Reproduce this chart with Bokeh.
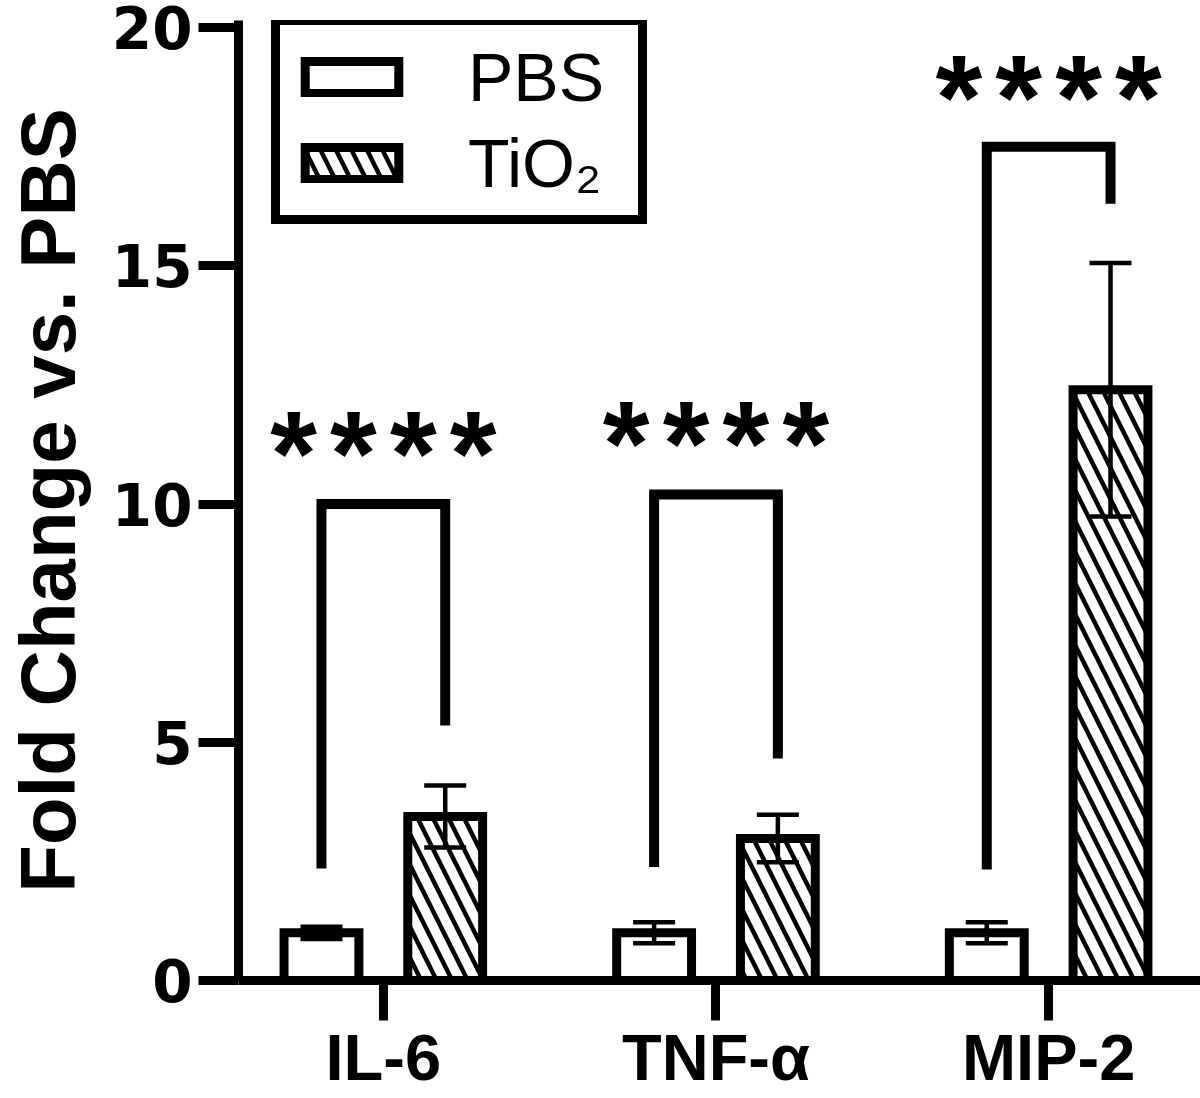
from bokeh.plotting import figure
from bokeh.models import (Range1d, FixedTicker, Whisker, TeeHead, ColumnDataSource,
                          Legend, LegendItem)
from bokeh.core.properties import value
from bokeh.embed import file_html
from bokeh.resources import INLINE

# ---------------- data ----------------
categories = ["IL-6", "TNF-α", "MIP-2"]
series = ["PBS", "TiO₂"]
pbs_mean = [1.0, 1.0, 1.0]
pbs_err = [0.13, 0.22, 0.22]
tio2_mean = [3.44, 2.98, 12.40]
tio2_err = [0.65, 0.50, 2.66]
# significance brackets (data units)
bracket_top = [10.0, 10.2, 17.5]
bracket_left_bottom = [2.35, 2.38, 2.33]
bracket_right_bottom = [5.35, 4.66, 16.3]
star_y = [11.35, 11.55, 18.82]
star_text = ["****", "****", "****"]
y_ticks = [0, 5, 10, 15, 20]

# ---------------- layout constants ----------------
FONT_NAME = "Liberation Sans"
FONT = value(FONT_NAME)
cat_x = list(range(len(categories)))
OFF = 0.186
BAR_W = 0.225
LW = 9
STAR_STEP = 0.18

p = figure(width=1200, height=1098, output_backend="svg", toolbar_location=None,
           x_range=Range1d(-0.4354, 2.4565), y_range=Range1d(0, 20.147),
           min_border_left=237, min_border_right=0, min_border_top=20, min_border_bottom=118)
p.outline_line_color = None
p.grid.visible = False
p.background_fill_color = "white"
p.border_fill_color = "white"

pbs_x = [c - OFF for c in cat_x]
tio_x = [c + OFF for c in cat_x]

r_pbs = p.vbar(x=pbs_x, top=pbs_mean, bottom=0, width=BAR_W, fill_color="white",
               line_color="black", line_width=LW, line_join="miter")
r_tio = p.vbar(x=tio_x, top=tio2_mean, bottom=0, width=BAR_W, fill_color="white",
               line_color="black", line_width=LW, line_join="miter",
               hatch_pattern="\\", hatch_color="black", hatch_weight=4.5, hatch_scale=31)

err_src = ColumnDataSource(dict(
    x=pbs_x + tio_x,
    upper=[m + e for m, e in zip(pbs_mean, pbs_err)] + [m + e for m, e in zip(tio2_mean, tio2_err)],
    lower=[m - e for m, e in zip(pbs_mean, pbs_err)] + [m - e for m, e in zip(tio2_mean, tio2_err)],
))
p.add_layout(Whisker(base="x", upper="upper", lower="lower", source=err_src, dimension="height",
                     line_width=4.5, line_color="black", level="annotation",
                     upper_head=TeeHead(size=42, line_width=4.5, line_color="black"),
                     lower_head=TeeHead(size=42, line_width=4.5, line_color="black")))

# brackets
bx, by = [], []
for c, t, lb, rb in zip(cat_x, bracket_top, bracket_left_bottom, bracket_right_bottom):
    bx.append([c - OFF, c - OFF, c + OFF, c + OFF])
    by.append([lb, t, t, rb])
p.multi_line(xs=bx, ys=by, line_color="black", line_width=LW + 1, line_join="miter", line_cap="butt")

# asterisks
sx, sy, st = [], [], []
for c, yv, s in zip(cat_x, star_y, star_text):
    n = len(s)
    for k, ch in enumerate(s):
        sx.append(c + (k - (n - 1) / 2) * STAR_STEP)
        sy.append(yv)
        st.append(ch)
p.text(x=sx, y=sy, text=st, text_font=FONT, text_font_size="120px", text_font_style="bold",
       text_align="center", text_baseline="middle", y_offset=13, text_color="black")

# axes
for ax in (p.xaxis[0], p.yaxis[0]):
    ax.axis_line_width = LW
    ax.axis_line_color = "black"
    ax.major_tick_line_width = LW
    ax.major_tick_line_color = "black"
    ax.major_tick_out = 40
    ax.major_tick_in = 0
    ax.minor_tick_line_color = None
    ax.major_label_text_font_style = "bold"
    ax.major_label_text_color = "black"
    ax.major_label_text_line_height = 1.0

p.xaxis.ticker = FixedTicker(ticks=cat_x)
p.xaxis.major_label_overrides = {i: c for i, c in zip(cat_x, categories)}
p.xaxis.major_label_text_font = FONT_NAME
p.xaxis.major_label_text_font_size = "65px"
p.xaxis.major_label_standoff = 0

p.yaxis.ticker = FixedTicker(ticks=y_ticks)
p.yaxis.major_label_text_font = "DejaVu Sans"
p.yaxis.major_label_text_font_size = "58px"
p.yaxis.major_label_standoff = 6
p.yaxis.axis_label = "Fold Change vs. PBS"
p.yaxis.axis_label_text_font = FONT_NAME
p.yaxis.axis_label_text_font_style = "bold"
p.yaxis.axis_label_text_font_size = "78px"
p.yaxis.axis_label_text_line_height = 1.0
p.yaxis.axis_label_standoff = 17
p.yaxis.axis_label_text_color = "black"

legend = Legend(items=[LegendItem(label=series[0], renderers=[r_pbs]),
                       LegendItem(label=series[1], renderers=[r_tio])],
                location=(33, 756.5), orientation="vertical", margin=0,
                border_line_color="black", border_line_width=LW, border_line_alpha=1,
                background_fill_color="white", background_fill_alpha=1,
                padding=13, spacing=8, glyph_width=117, glyph_height=40,
                label_standoff=58, label_width=157,
                label_text_font=FONT_NAME, label_text_font_size="68px", label_text_color="black")
p.add_layout(legend)

open("out.html", "w").write(file_html(p, INLINE))
